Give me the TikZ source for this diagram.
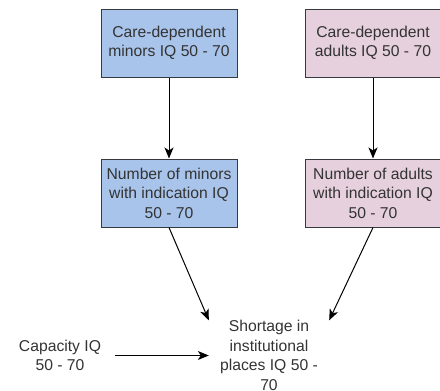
\documentclass[tikz,border=0pt]{standalone}
\usepackage{fontspec}
\setmainfont{Liberation Sans}
\usetikzlibrary{arrows.meta}
\definecolor{minorfill}{HTML}{A9C4EB}
\definecolor{adultfill}{HTML}{E6D0DE}
\definecolor{boxline}{HTML}{36393D}
\definecolor{txt}{HTML}{333333}
\tikzset{
  box/.style={draw=boxline, line width=1pt, minimum width=136pt, minimum height=68pt,
    inner sep=0pt, align=center, text=txt, font=\fontsize{15.7}{19.5}\selectfont},
  minorbox/.style={box, fill=minorfill},
  adultbox/.style={box, fill=adultfill},
  plain/.style={inner sep=0pt, align=center, text=txt, font=\fontsize{15.7}{19.5}\selectfont},
  link/.style={draw=black, line width=1pt, -{Stealth[length=11pt,width=9pt,inset=3pt]}}
}
\begin{document}
\begin{tikzpicture}[x=1pt,y=-1pt]
\useasboundingbox (0,0) rectangle (440,391);
% source boxes
\node[minorbox] (cdminors) at (169,43) {Care-dependent\\minors IQ 50 - 70};
\node[adultbox] (cdadults) at (373,43) {Care-dependent\\adults IQ 50 - 70};
% indication boxes
\node[minorbox] (nminors) at (169,193) {Number of minors\\with indication IQ\\50 - 70};
\node[adultbox] (nadults) at (373,193) {Number of adults\\with indication IQ\\50 - 70};
% result and capacity
\node[plain, minimum width=120pt, minimum height=70pt] (shortage) at (269,355.5)
  {Shortage in\\institutional\\places IQ 50 -\\70};
\node[plain, minimum width=110pt, minimum height=40pt] (capacity) at (60,355.5)
  {Capacity IQ\\50 - 70};
% connectors
\draw[link] (cdminors.south) -- (nminors.north);
\draw[link] (cdadults.south) -- (nadults.north);
\draw[link] (nminors.south) -- (shortage.north west);
\draw[link] (nadults.south) -- (shortage.north east);
\draw[link] (capacity.east) -- (shortage.west);
\end{tikzpicture}
\end{document}
